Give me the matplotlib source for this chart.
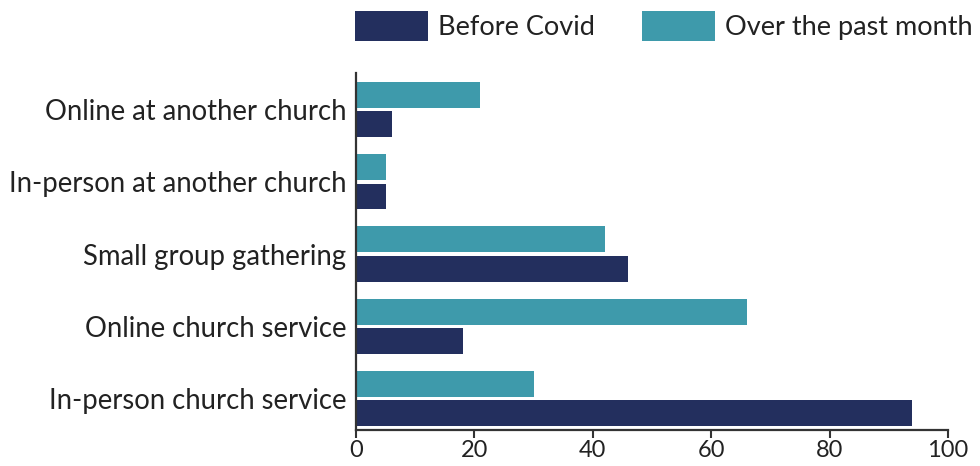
import numpy as np
import matplotlib.pyplot as plt

plt.rcParams['font.family'] = ['Lato', 'DejaVu Sans']

# Church attendance by type, bottom to top
categories = ['In-person church service', 'Online church service', 'Small group gathering',
              'In-person at another church', 'Online at another church']
before_covid = [94, 18, 46, 5, 6]
past_month = [30, 66, 42, 5, 21]

navy = '#232f5e'
teal = '#3e9aab'

fig = plt.figure(figsize=(9.8, 4.66), dpi=100)
ax = fig.add_axes([356/980, 1 - 430/466, (948-356)/980, (430-73)/466])

y = np.arange(len(categories))
h = 0.36
gap = 0.045
ax.barh(y - (h + gap)/2, before_covid, height=h, color=navy, label='Before Covid')
ax.barh(y + (h + gap)/2, past_month, height=h, color=teal, label='Over the past month')

ax.set_xlim(0, 100)
ax.set_ylim(-0.44, 4.51)
ax.set_yticks(y)
ax.set_yticklabels(categories, fontsize=19.8, color='#222222')
ax.set_xticks(np.arange(0, 101, 20))
ax.tick_params(axis='x', labelsize=17, labelcolor='#222222', length=6, width=1.5,
               color='#333333', direction='out', pad=1.5)
ax.tick_params(axis='y', length=0, pad=7)

for s in ['top', 'right']:
    ax.spines[s].set_visible(False)
for s in ['left', 'bottom']:
    ax.spines[s].set_linewidth(1.6)
    ax.spines[s].set_color('#333333')

leg = fig.legend(*ax.get_legend_handles_labels(), loc='center left',
                 bbox_to_anchor=(355/980, 1 - 26/466), bbox_transform=fig.transFigure,
                 ncol=2, frameon=False, fontsize=19.5, handlelength=2.7, handleheight=1.33,
                 handletextpad=0.37, columnspacing=1.74, borderaxespad=0, borderpad=0)
for t in leg.get_texts():
    t.set_color('#222222')

fig.savefig('out.png', dpi=100)
